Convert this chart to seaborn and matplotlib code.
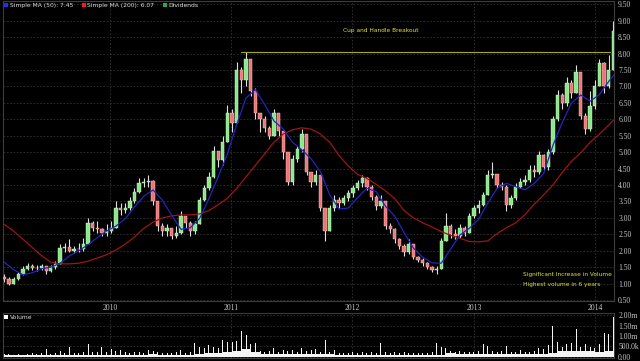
import numpy as np
import pandas as pd
import matplotlib
matplotlib.use('Agg')
import matplotlib.pyplot as plt
import matplotlib.dates as mdates
from matplotlib.ticker import FuncFormatter
from matplotlib.lines import Line2D
import seaborn as sns

# price bars, one every two weeks
bar_start = '2009-02-17'
first_open = 1.20
close = [1.15, 1.0, 1.15, 1.28, 1.45, 1.52, 1.48, 1.47, 1.52, 1.38,
         1.5, 1.6, 2.08, 2.1, 2.0, 2.05, 2.05, 2.2, 2.85, 2.7,
         2.65, 2.55, 2.6, 2.7, 3.3, 3.25, 3.3, 3.5, 3.8, 4.05,
         4.1, 4.12, 3.5, 2.75, 2.6, 2.7, 2.45, 2.55, 3.05, 2.85,
         2.6, 2.8, 3.55, 3.9, 4.25, 5.05, 4.75, 5.3, 6.2, 5.9,
         7.5, 7.2, 7.85, 6.85, 6.2, 6.0, 5.75, 5.5, 6.2, 5.65,
         5.0, 4.1, 4.8, 5.1, 5.55, 4.4, 4.1, 4.3, 3.3, 2.6,
         3.3, 3.55, 3.45, 3.6, 3.75, 3.9, 4.05, 4.2, 3.95, 3.65,
         3.35, 3.5, 2.75, 2.65, 2.35, 2.15, 1.95, 2.2, 1.8, 1.72,
         1.62, 1.5, 1.42, 1.45, 2.3, 2.75, 2.5, 2.45, 2.7, 2.55,
         3.05, 3.3, 3.4, 3.7, 4.3, 4.35, 4.0, 3.95, 3.4, 3.6,
         3.95, 4.1, 4.15, 4.45, 4.4, 4.9, 4.55, 5.0, 6.0, 6.75,
         6.5, 7.1, 6.8, 7.45, 6.1, 5.7, 6.4, 7.0, 7.7, 7.0,
         7.5, 8.7]
high = [1.3, 1.2, 1.2, 1.35, 1.55, 1.62, 1.6, 1.58, 1.6, 1.55,
        1.58, 1.68, 2.2, 2.25, 2.35, 2.15, 2.25, 2.4, 3.0, 2.9,
        2.9, 2.7, 2.8, 2.9, 3.5, 3.45, 3.45, 3.65, 3.9, 4.2,
        4.2, 4.3, 4.15, 3.5, 2.85, 2.8, 2.7, 2.75, 3.2, 3.05,
        2.9, 2.9, 3.65, 4.0, 4.4, 5.2, 5.0, 5.5, 6.45, 6.3,
        7.75, 7.6, 8.05, 7.7, 6.95, 6.2, 6.1, 5.8, 6.3, 6.2,
        5.6, 5.0, 4.9, 5.2, 5.7, 5.5, 4.4, 4.45, 4.3, 3.3,
        3.4, 3.7, 3.65, 3.7, 3.85, 4.0, 4.15, 4.3, 4.25, 4.0,
        3.7, 3.7, 3.5, 2.85, 2.7, 2.4, 2.2, 2.35, 2.2, 1.85,
        1.78, 1.65, 1.55, 1.55, 2.4, 3.15, 2.8, 2.65, 2.8, 2.75,
        3.15, 3.4, 3.55, 3.8, 4.45, 4.7, 4.35, 4.1, 4.0, 3.7,
        4.05, 4.2, 4.3, 4.6, 4.6, 5.05, 4.95, 5.1, 6.1, 6.9,
        6.8, 7.3, 7.2, 7.65, 7.4, 6.2, 6.85, 7.2, 7.85, 7.75,
        7.95, 9.0]
low = [1.05, 0.95, 0.98, 1.12, 1.25, 1.4, 1.4, 1.38, 1.42, 1.3,
       1.35, 1.45, 1.6, 1.95, 1.95, 1.92, 1.95, 2.0, 2.2, 2.6,
       2.55, 2.45, 2.45, 2.55, 2.7, 3.1, 3.15, 3.25, 3.45, 3.75,
       3.95, 3.95, 3.4, 2.6, 2.45, 2.45, 2.35, 2.4, 2.5, 2.7,
       2.45, 2.5, 2.8, 3.5, 3.85, 4.2, 4.55, 4.6, 5.3, 5.6,
       5.9, 6.8, 7.0, 6.7, 6.0, 5.6, 5.6, 5.4, 5.5, 5.5,
       4.8, 4.0, 4.0, 4.7, 5.0, 4.3, 3.95, 4.0, 3.2, 2.3,
       2.6, 3.2, 3.3, 3.4, 3.5, 3.65, 3.85, 3.95, 3.85, 3.55,
       3.25, 3.3, 2.65, 2.55, 2.25, 2.05, 1.85, 1.9, 1.75, 1.65,
       1.55, 1.45, 1.35, 1.3, 1.45, 2.3, 2.4, 2.35, 2.4, 2.45,
       2.55, 3.0, 3.15, 3.35, 3.7, 4.2, 3.9, 3.85, 3.2, 3.3,
       3.55, 3.9, 4.0, 4.1, 4.25, 4.35, 4.45, 4.45, 4.95, 5.95,
       6.3, 6.4, 6.65, 6.8, 6.0, 5.55, 5.65, 6.3, 7.0, 6.8,
       6.95, 7.5]
# peak daily volume in each two-week bar, millions
volume = [0.15, 0.12, 0.1, 0.12, 0.1, 0.15, 0.18, 0.14, 0.2, 0.36,
          0.15, 0.2, 0.3, 0.2, 0.45, 0.18, 0.2, 0.25, 0.6, 0.22,
          0.25, 0.48, 0.22, 0.36, 0.28, 0.32, 0.25, 0.2, 0.22, 0.25,
          0.2, 0.32, 0.28, 0.22, 0.2, 0.18, 0.2, 0.22, 0.32, 0.2,
          0.22, 0.68, 0.45, 0.4, 0.57, 0.45, 0.4, 0.81, 0.72, 0.72,
          0.77, 1.26, 1.05, 0.6, 0.68, 0.3, 0.25, 0.3, 0.4, 0.25,
          0.32, 0.28, 0.32, 0.25, 0.4, 0.3, 0.32, 0.36, 0.25, 0.81,
          0.25, 0.32, 0.2, 0.18, 0.2, 0.22, 0.2, 0.22, 0.2, 0.22,
          0.2, 0.68, 0.25, 0.2, 0.22, 0.18, 0.24, 0.2, 0.18, 0.2,
          0.18, 0.2, 0.25, 0.65, 0.48, 0.4, 0.3, 0.22, 0.28, 0.22,
          0.25, 0.22, 0.3, 0.6, 0.52, 0.3, 0.25, 0.3, 0.52, 0.25,
          0.22, 0.32, 0.25, 0.22, 0.28, 0.4, 0.35, 0.57, 1.5, 0.72,
          0.45, 0.6, 0.65, 1.32, 0.45, 0.61, 0.48, 0.4, 0.6, 1.16,
          1.08, 1.9]

# moving averages and base volume, one every four weeks
ma_start = '2009-02-17'
ma50 = [1.65, 1.42, 1.27, 1.33, 1.45, 1.5, 1.62, 1.84, 2.0, 2.18,
        2.4, 2.6, 2.75, 2.97, 3.33, 3.66, 3.85, 3.54, 3.08, 2.65,
        2.7, 2.98, 3.58, 4.25, 4.95, 5.85, 6.65, 6.9, 6.45, 5.95,
        5.7, 5.3, 5.07, 4.8, 4.4, 3.7, 3.27, 3.3, 3.62, 3.9,
        3.8, 3.35, 3.05, 2.55, 2.08, 1.8, 1.63, 1.62, 2.05, 2.48,
        2.68, 2.95, 3.45, 3.9, 4.05, 3.95, 3.85, 4.05, 4.35, 5.2,
        5.9, 6.5, 6.74, 6.55, 6.75, 7.15, 7.5]
ma200 = [2.8, 2.6, 2.35, 2.1, 1.85, 1.65, 1.6, 1.6, 1.62, 1.68,
         1.78, 1.88, 2.02, 2.2, 2.42, 2.68, 2.87, 3.0, 3.06, 3.09,
         3.09, 3.12, 3.22, 3.4, 3.6, 3.9, 4.25, 4.6, 4.95, 5.3,
         5.55, 5.68, 5.74, 5.7, 5.55, 5.3, 4.9, 4.58, 4.32, 4.2,
         4.02, 3.82, 3.58, 3.22, 3.0, 2.85, 2.72, 2.58, 2.47, 2.38,
         2.28, 2.27, 2.3, 2.52, 2.7, 2.85, 3.1, 3.42, 3.7, 4.0,
         4.38, 4.72, 4.98, 5.3, 5.55, 5.82, 6.1]
vol_base = [0.08, 0.07, 0.07, 0.08, 0.08, 0.08, 0.1, 0.1, 0.09, 0.1, 0.1,
            0.1, 0.1, 0.1, 0.09, 0.1, 0.12, 0.1, 0.1, 0.1, 0.1,
            0.15, 0.18, 0.2, 0.25, 0.3, 0.35, 0.25, 0.15, 0.12, 0.12,
            0.12, 0.12, 0.12, 0.12, 0.12, 0.1, 0.1, 0.1, 0.1, 0.1,
            0.1, 0.09, 0.08, 0.08, 0.08, 0.08, 0.1, 0.18, 0.15, 0.12,
            0.12, 0.15, 0.15, 0.12, 0.12, 0.12, 0.12, 0.15, 0.2, 0.3,
            0.3, 0.3, 0.28, 0.25, 0.3, 0.35]

legend_labels = ['Simple MA (50): 7.45', 'Simple MA (200): 6.07', 'Dividends']
breakout_level = 8.05
breakout_from = '2011-02-01'
breakout_to = '2014-02-14'
note_top = 'Cup and Handle Breakout'
note_bottom = ['Significant Increase in Volume', 'Highest volume in 6 years']

bars = pd.DataFrame({'date': pd.date_range(bar_start, periods=len(close), freq='14D'),
                     'close': close, 'high': high, 'low': low, 'volume': volume})
bars['open'] = [first_open] + close[:-1]
ma = pd.DataFrame({'date': pd.date_range(ma_start, periods=len(ma50), freq='28D'),
                   'ma50': ma50, 'ma200': ma200, 'base': vol_base})

sns.set_theme(style='dark')
plt.rcParams['font.family'] = ['DejaVu Sans']
bg = '#000000'
grid_c = '#333333'
text_c = '#c8c8c8'
yellow = '#e4e430'

fig = plt.figure(figsize=(6.4, 3.61), dpi=100, facecolor=bg)
ax = fig.add_axes([3 / 640, 60 / 361, 611 / 640, 300 / 361])
axv = fig.add_axes([3 / 640, 3 / 361, 611 / 640, 45 / 361], sharex=ax)

for a in (ax, axv):
    a.set_facecolor(bg)
    for s in a.spines.values():
        s.set_color('#3c3c3c')
        s.set_linewidth(0.8)
    a.grid(True, which='major', color=grid_c, ls=(0, (2, 2)), lw=0.6)
    a.yaxis.tick_right()
    a.tick_params(axis='y', length=0, pad=3, labelsize=5.5, labelcolor=text_c,
                  labelfontfamily='Liberation Serif')

# candles
up = bars['close'] >= bars['open']
ax.vlines(bars['date'], bars['low'], bars['high'], color='#e0e0e0', lw=0.8, zorder=2)
ax.bar(bars['date'][up], (bars['close'] - bars['open'])[up], bottom=bars['open'][up],
       width=10, color='#8ae88a', edgecolor='#d8f5d8', lw=0.3, zorder=3)
ax.bar(bars['date'][~up], (bars['close'] - bars['open'])[~up], bottom=bars['open'][~up],
       width=10, color='#f07474', edgecolor='#f5d0d0', lw=0.3, zorder=3)

sns.lineplot(data=ma, x='date', y='ma200', ax=ax, color='#a01414', lw=0.9, zorder=4)
sns.lineplot(data=ma, x='date', y='ma50', ax=ax, color='#2424c0', lw=0.9, zorder=4)

ax.plot(pd.to_datetime([breakout_from, breakout_to]), [breakout_level] * 2,
        color='#a8a828', lw=0.8, zorder=5)
ax.text(0.619, 0.903, note_top, transform=ax.transAxes, ha='center', va='center',
        fontsize=4.2, color=yellow)
ax.text(0.851, 0.088, note_bottom[0], transform=ax.transAxes, ha='left', va='center',
        fontsize=4.2, color=yellow)
ax.text(0.851, 0.055, note_bottom[1], transform=ax.transAxes, ha='left', va='center',
        fontsize=4.2, color=yellow)

ax.set_ylim(0.47, 9.6)
ax.set_yticks(np.arange(0.5, 9.51, 0.5))
ax.yaxis.set_major_formatter(FuncFormatter(lambda v, p: f'{v:.2f}'))
ax.set_xlim(pd.Timestamp('2009-02-13'), pd.Timestamp('2014-02-27'))
ax.xaxis.set_major_locator(mdates.YearLocator())
ax.xaxis.set_major_formatter(mdates.DateFormatter('%Y'))
ax.xaxis.set_minor_locator(mdates.MonthLocator(bymonth=7))
ax.tick_params(axis='x', which='major', length=0, pad=2, labelsize=5.5, labelcolor=text_c,
               labelfontfamily='Liberation Serif')
ax.tick_params(axis='x', which='minor', length=2, color='#606060', direction='out')
ax.set_xlabel('')
ax.set_ylabel('')

handles = [Line2D([], [], ls='', marker='s', markersize=2.5, color=c, markeredgewidth=0)
           for c in ['#2a2aff', '#ff1a1a', '#2aa84a']]
ax.legend(handles, legend_labels, loc='upper left', ncol=3, frameon=False,
          fontsize=4.3, labelcolor='#e0e0e0', handlelength=0.5, handletextpad=0.3,
          columnspacing=1.6, borderaxespad=0.1, borderpad=0.2)

# volume panel
axv.fill_between(ma['date'], 0, ma['base'], step='mid', color='#f4f4f4', lw=0, zorder=2)
axv.bar(bars['date'], bars['volume'], width=3, color='#f4f4f4', lw=0, zorder=3)
axv.set_ylim(-0.06, 2.11)
axv.set_yticks([0, 0.5, 1.0, 1.5, 2.0])
axv.set_yticklabels(['0.00', '500.0k', '1.00m', '1.50m', '2.00m'])
axv.tick_params(axis='x', which='both', length=0, labelbottom=False)
axv.set_xlabel('')
axv.set_ylabel('')
axv.legend([Line2D([], [], ls='', marker='s', markersize=2.5, color='#ffffff',
                   markeredgewidth=0)], ['Volume'], loc='upper left', frameon=False,
           fontsize=4.3, labelcolor='#e0e0e0', handlelength=0.5, handletextpad=0.3,
           borderaxespad=0.1, borderpad=0.2)

fig.savefig('out.png', dpi=100, facecolor=bg)
